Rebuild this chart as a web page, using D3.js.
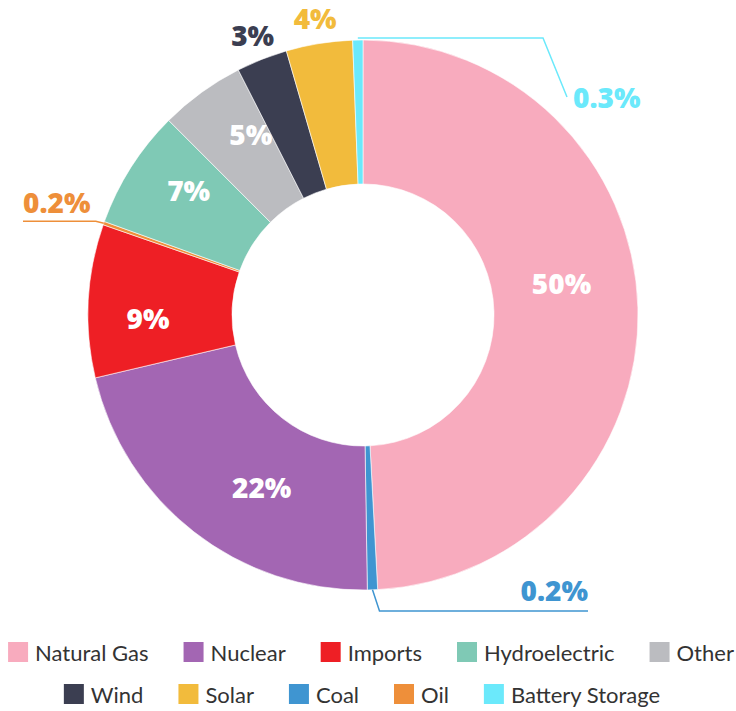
<!DOCTYPE html>
<html>
<head>
<meta charset="utf-8">
<script src="https://cdn.jsdelivr.net/npm/d3@7"></script>
<style>
  body { margin: 0; background: #fff; }
  .pct { font-family: "Open Sans", sans-serif; font-weight: 800; font-size: 28px; }
  .legend text { font-family: Lato, sans-serif; font-size: 22px; fill: #333; }
</style>
</head>
<body>
<div id="chart"></div>
<script>
// slices in drawing order (clockwise from 12 o'clock)
var sources = ["Natural Gas", "Coal", "Nuclear", "Imports", "Oil", "Hydroelectric", "Other", "Wind", "Solar", "Battery Storage"];
var shares = [49.2, 0.6, 21.6, 9, 0.2, 7, 5, 3, 3.9, 0.6];
var pctLabels = ["50%", "0.2%", "22%", "9%", "0.2%", "7%", "5%", "3%", "4%", "0.3%"];
var colors = ["#F8ABBE", "#3F95D1", "#A366B3", "#EE1F25", "#EE8F3A", "#7FC9B5", "#BBBCC0", "#3B3E51", "#F2BB3C", "#6BE9FB"];
// legend order
var legendRow1 = ["Natural Gas", "Nuclear", "Imports", "Hydroelectric", "Other"];
var legendRow2 = ["Wind", "Solar", "Coal", "Oil", "Battery Storage"];

var width = 736, height = 711;
var cx = 363, cy = 315;
var outerR = 275, innerR = 131;

var svg = d3.select("#chart").append("svg")
  .attr("width", width)
  .attr("height", height);

var data = sources.map(function(s, i) {
  return { name: s, value: shares[i], label: pctLabels[i], color: colors[i] };
});

var pie = d3.pie().sort(null).value(d => d.value);
var arcs = pie(data);

var arc = d3.arc().innerRadius(innerR).outerRadius(outerR);
var outArc = d3.arc().innerRadius(300).outerRadius(300);

var g = svg.append("g").attr("transform", `translate(${cx},${cy})`);

g.selectAll("path")
  .data(arcs)
  .enter()
  .append("path")
  .attr("d", arc)
  .attr("fill", d => d.data.color)
  .attr("stroke", "#fff")
  .attr("stroke-width", 0.6);

// labels inside the ring (nudged a little around the ring like the original)
var inside = { "Natural Gas": [-7.5, 201], "Nuclear": [-7.5, 200], "Imports": [-4, 215], "Hydroelectric": [3, 214], "Other": [4, 212] };
function insidePos(d) {
  var n = inside[d.data.name];
  var a = (d.startAngle + d.endAngle) / 2 + n[0] * Math.PI / 180;
  return [n[1] * Math.sin(a), -n[1] * Math.cos(a)];
}
g.selectAll("text.in")
  .data(arcs.filter(d => inside[d.data.name]))
  .enter()
  .append("text")
  .attr("class", "pct")
  .attr("transform", d => `translate(${insidePos(d)})`)
  .attr("text-anchor", "middle")
  .attr("dy", "0.36em")
  .attr("fill", "#fff")
  .text(d => d.data.label);

// labels just outside (wind, solar)
var outside = ["Wind", "Solar"];
g.selectAll("text.out")
  .data(arcs.filter(d => outside.indexOf(d.data.name) >= 0))
  .enter()
  .append("text")
  .attr("class", "pct")
  .attr("transform", d => `translate(${outArc.centroid(d)})`)
  .attr("text-anchor", "middle")
  .attr("dy", "0.36em")
  .attr("fill", d => d.data.color)
  .text(d => d.data.label);

// small slices with leader lines
function edgePoint(d) {
  var a = (d.startAngle + d.endAngle) / 2;
  return [outerR * Math.sin(a), -outerR * Math.cos(a)];
}
var leaders = {
  "Battery Storage": { pts: p => [[p[0], p[1] - 2], [180, p[1] - 2], [204, -218]], tx: 210, ty: -207, anchor: "start" },
  "Coal": { pts: p => [p, [p[0] + 7, 296], [225, 296]], tx: 225, ty: 286, anchor: "end" },
  "Oil": { pts: p => [p, [p[0] - 8, p[1] - 2], [-340, p[1] - 2]], tx: -340, ty: -102, anchor: "start" }
};
arcs.filter(d => leaders[d.data.name]).forEach(function(d) {
  var L = leaders[d.data.name];
  var p = edgePoint(d);
  g.append("path")
    .attr("d", d3.line()(L.pts(p)))
    .attr("fill", "none")
    .attr("stroke", d.data.color)
    .attr("stroke-width", 1.5);
  g.append("text")
    .attr("class", "pct")
    .attr("x", L.tx)
    .attr("y", L.ty)
    .attr("text-anchor", L.anchor)
    .attr("fill", d.data.color)
    .text(d.data.label);
});

// legend
var colorOf = d3.scaleOrdinal().domain(sources).range(colors);
var gap = 35;
function drawRow(names, y, shift) {
  var row = svg.append("g").attr("class", "legend");
  var x = 0;
  names.forEach(function(n) {
    var item = row.append("g").attr("transform", `translate(${x},0)`);
    item.append("rect")
      .attr("x", 0).attr("y", y - 11)
      .attr("width", 20).attr("height", 20)
      .attr("fill", colorOf(n));
    var t = item.append("text")
      .attr("x", 27).attr("y", y + 8)
      .text(n);
    x += 27 + t.node().getComputedTextLength() + gap;
  });
  var total = x - gap;
  row.attr("transform", `translate(${(width - total) / 2 + shift},0)`);
}
drawRow(legendRow1, 653, 3);
drawRow(legendRow2, 695, -6);
</script>
</body>
</html>
